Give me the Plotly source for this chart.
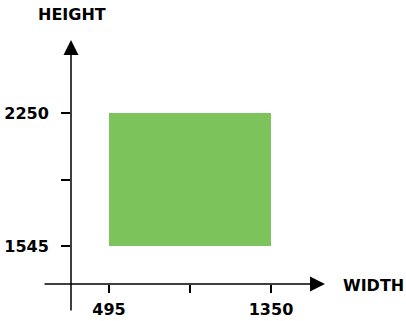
import plotly.graph_objects as go

widths = [495, 1350]
heights = [1545, 2250]
x_ticks = [495, 922.5, 1350]
x_tick_text = ["495", "", "1350"]
y_ticks = [1545, 1897.5, 2250]
y_tick_text = ["1545", "", "2250"]

FONT = "DejaVu Sans"
fig = go.Figure()
fig.add_trace(go.Scatter(
    x=[widths[0], widths[1], widths[1], widths[0], widths[0]],
    y=[heights[0], heights[0], heights[1], heights[1], heights[0]],
    fill="toself", fillcolor="#7DC35B", mode="lines",
    line=dict(width=0, color="#7DC35B"), hoverinfo="skip", showlegend=False,
))

L, R, T, B = 71, 81, 40, 37
fig.update_layout(
    width=406, height=321,
    margin=dict(l=L, r=R, t=T, b=B),
    plot_bgcolor="white", paper_bgcolor="white",
    xaxis=dict(range=[294.4, 1635], showgrid=False, zeroline=False, showline=False,
               automargin=False,
               tickvals=x_ticks, ticktext=x_tick_text, ticks="outside", ticklen=8,
               tickwidth=1.5, tickcolor="black", ticklabelstandoff=3,
               tickfont=dict(family=FONT, size=16, color="black", weight="bold")),
    yaxis=dict(range=[1343.6, 2637], showgrid=False, zeroline=False, showline=False,
               automargin=False,
               tickvals=y_ticks, ticktext=y_tick_text, ticks="outside", ticklen=9,
               tickwidth=1.5, tickcolor="black", ticklabelstandoff=9,
               tickfont=dict(family=FONT, size=16, color="black", weight="bold")),
)

# axis lines with arrows
fig.add_annotation(x=1.0, y=0, xref="x domain", yref="y domain", ax=-282, ay=0,
                   axref="pixel", ayref="pixel", text="", showarrow=True,
                   arrowhead=2, arrowsize=2, arrowwidth=1.5, arrowcolor="black", standoff=0)
fig.add_annotation(x=0, y=1.0, xref="x domain", yref="y domain", ax=0, ay=272,
                   axref="pixel", ayref="pixel", text="", showarrow=True,
                   arrowhead=2, arrowsize=2, arrowwidth=1.5, arrowcolor="black", standoff=0)

pw, ph = 406 - L - R, 321 - T - B
def px(x, y):
    return (x - L) / pw, (321 - B - y) / ph

for txt, (x, y) in [("WIDTH", (373, 285)), ("HEIGHT", (72, 15))]:
    xx, yy = px(x, y)
    fig.add_annotation(x=xx, y=yy, xref="paper", yref="paper", text=txt, showarrow=False,
                       xanchor="center", yanchor="middle",
                       font=dict(family=FONT, size=16, color="black", weight="bold"))

fig.write_html("out.html", config={"displayModeBar": False},
               post_script="document.body.style.margin='0';document.body.style.padding='0';")
